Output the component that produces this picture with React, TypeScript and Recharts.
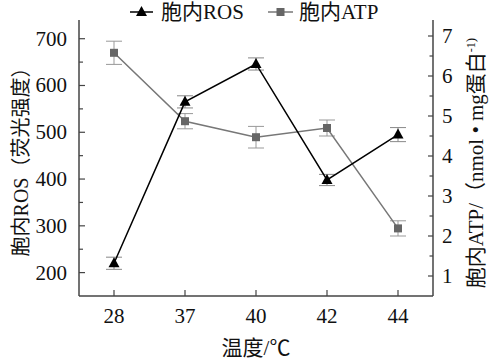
import { CartesianGrid, ErrorBar, Legend, Line, LineChart, XAxis, YAxis } from 'recharts';

const FONT = '"Liberation Serif", "Noto Sans CJK SC", serif';
const AXIS_COLOR = '#444';

const temps = ['28', '37', '40', '42', '44'];
const rosValues = [220, 565, 646, 398, 495];
const rosErrors = [13, 13, 13, 12, 15];
const atpValues = [6.58, 4.87, 4.47, 4.7, 2.19];
const atpErrors = [0.29, 0.19, 0.27, 0.2, 0.19];

const rosTicks = [200, 250, 300, 350, 400, 450, 500, 550, 600, 650, 700];
const atpTicks = [1, 1.5, 2, 2.5, 3, 3.5, 4, 4.5, 5, 5.5, 6, 6.5, 7];

const rows = temps.map((t, i) => ({
  temp: t,
  ros: rosValues[i],
  rosErr: rosErrors[i],
  atp: atpValues[i],
  atpErr: atpErrors[i],
}));

function TriangleDot({ cx, cy }: { cx?: number; cy?: number }) {
  if (cx == null || cy == null) return null;
  return <polygon points={`${cx},${cy - 6} ${cx - 5.5},${cy + 4} ${cx + 5.5},${cy + 4}`} fill="#000" />;
}

function SquareDot({ cx, cy }: { cx?: number; cy?: number }) {
  if (cx == null || cy == null) return null;
  return <rect x={cx - 4} y={cy - 4} width={8} height={8} fill="#666" />;
}

function LeftTick({ x, y, payload }: any) {
  const major = payload.value % 100 === 0;
  return (
    <g>
      <line x1={x} x2={x + (major ? 6 : 4)} y1={y} y2={y} stroke={AXIS_COLOR} strokeWidth={1.2} />
      {major && (
        <text x={x - 12} y={y} dy={7} textAnchor="end" fontSize={21} fontFamily={FONT} fill="#111">
          {payload.value}
        </text>
      )}
    </g>
  );
}

function RightTick({ x, y, payload }: any) {
  const major = Number.isInteger(payload.value);
  return (
    <g>
      <line x1={x} x2={x - (major ? 5 : 3.5)} y1={y} y2={y} stroke={AXIS_COLOR} strokeWidth={1.2} />
      {major && (
        <text x={x + 9} y={y} dy={7} textAnchor="start" fontSize={21} fontFamily={FONT} fill="#111">
          {payload.value}
        </text>
      )}
    </g>
  );
}

function BottomTick({ x, y, payload }: any) {
  return (
    <g>
      <line x1={x} x2={x} y1={y} y2={y - 6} stroke={AXIS_COLOR} strokeWidth={1.2} />
      <text x={x} y={y + 27} textAnchor="middle" fontSize={21} fontFamily={FONT} fill="#111">
        {payload.value}
      </text>
    </g>
  );
}

function ChartLegend() {
  return (
    <svg width={491} height={26} style={{ display: 'block' }}>
      <line x1={130} x2={153} y1={12} y2={12} stroke="#000" strokeWidth={1.5} />
      <TriangleDot cx={141.5} cy={12} />
      <text x={161} y={19} fontSize={21} fontFamily={FONT} fill="#111">胞内ROS</text>
      <line x1={268} x2={293} y1={12} y2={12} stroke="#777" strokeWidth={1.5} />
      <SquareDot cx={280.5} cy={12} />
      <text x={299} y={19} fontSize={21} fontFamily={FONT} fill="#111">胞内ATP</text>
    </svg>
  );
}

export default function App() {
  return (
    <div style={{ position: 'absolute', left: 0, top: 0, width: 491, height: 362, background: '#fff' }}>
      <LineChart width={491} height={362} data={rows} margin={{ top: 20, right: 0, bottom: 0, left: 0 }}>
        <CartesianGrid stroke="none" />
        <XAxis
          dataKey="temp"
          height={66}
          padding={{ left: 35, right: 35 }}
          tickSize={0}
          tickMargin={0}
          interval={0}
          tick={(p: any) => <BottomTick {...p} />}
          axisLine={{ stroke: AXIS_COLOR, strokeWidth: 1.5 }}
          label={{
            content: () => (
              <text x={256} y={355} textAnchor="middle" fontSize={21} fontFamily={FONT} fill="#111">
                温度/℃
              </text>
            ),
          }}
        />
        <YAxis
          yAxisId="ros"
          width={79}
          domain={[150, 740]}
          ticks={rosTicks}
          interval={0}
          tickSize={0}
          tickMargin={0}
          tick={(p: any) => <LeftTick {...p} />}
          axisLine={{ stroke: AXIS_COLOR, strokeWidth: 1.5 }}
          label={{
            content: () => (
              <text
                transform="translate(28,157) rotate(-90)"
                textAnchor="middle"
                fontSize={20}
                fontFamily={FONT}
                fill="#111"
              >
                胞内ROS（荧光强度）
              </text>
            ),
          }}
        />
        <YAxis
          yAxisId="atp"
          orientation="right"
          width={58}
          domain={[0.5, 7.4]}
          ticks={atpTicks}
          interval={0}
          tickSize={0}
          tickMargin={0}
          tick={(p: any) => <RightTick {...p} />}
          axisLine={{ stroke: AXIS_COLOR, strokeWidth: 1.5 }}
          label={{
            content: () => (
              <text
                transform="translate(483,163) rotate(-90)"
                textAnchor="middle"
                fontSize={21}
                fontFamily={FONT}
                fill="#111"
              >
                胞内ATP/（nmol • mg蛋白
                <tspan fontSize={12} dy={-8}>-1</tspan>
                <tspan fontSize={13} dy={0}>)</tspan>
              </text>
            ),
          }}
        />
        <Legend
          verticalAlign="middle"
          align="center"
          wrapperStyle={{ top: 0, left: 0, width: 491 }}
          content={() => <ChartLegend />}
        />
        <Line
          yAxisId="atp"
          dataKey="atp"
          name="胞内ATP"
          stroke="#777"
          strokeWidth={1.5}
          dot={(p: any) => <SquareDot key={`a${p.index}`} cx={p.cx} cy={p.cy} />}
          activeDot={false}
          isAnimationActive={false}
        >
          <ErrorBar dataKey="atpErr" width={8} stroke="#999" strokeWidth={1} direction="y" isAnimationActive={false} />
        </Line>
        <Line
          yAxisId="ros"
          dataKey="ros"
          name="胞内ROS"
          stroke="#000"
          strokeWidth={1.5}
          dot={(p: any) => <TriangleDot key={`r${p.index}`} cx={p.cx} cy={p.cy} />}
          activeDot={false}
          isAnimationActive={false}
        >
          <ErrorBar dataKey="rosErr" width={8} stroke="#888" strokeWidth={1} direction="y" isAnimationActive={false} />
        </Line>
      </LineChart>
    </div>
  );
}
